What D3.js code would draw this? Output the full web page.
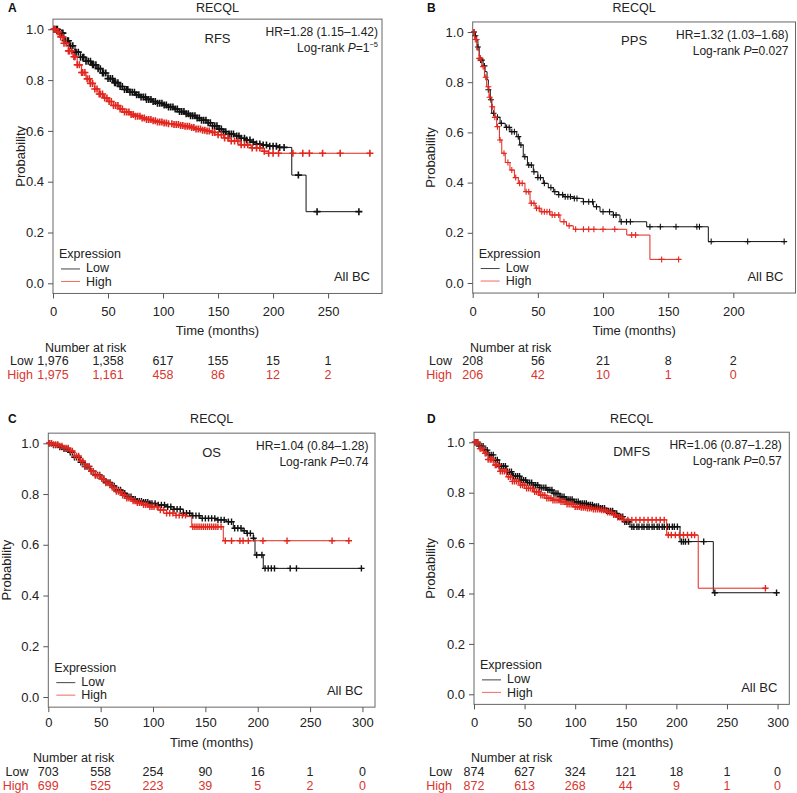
<!DOCTYPE html>
<html>
<head>
<meta charset="utf-8">
<script src="https://cdn.jsdelivr.net/npm/d3@7"></script>
<style>
  body { margin: 0; background: #fff; }
  text { font-family: "Liberation Sans", Arial, sans-serif; }
</style>
</head>
<body>
<div id="chart"></div>
<script>
// ---- data ----
const letters = ["A", "B", "C", "D"];
const endpoints = ["RFS", "PPS", "OS", "DMFS"];
const geneName = "RECQL";
const hrLabels = ["HR=1.28 (1.15\u20131.42)", "HR=1.32 (1.03\u20131.68)", "HR=1.04 (0.84\u20131.28)", "HR=1.06 (0.87\u20131.28)"];
const pValues = ["1", "0.027", "0.74", "0.57"];
const pExponents = ["\u22125", "", "", ""];

// survival steps [months, probability]; last entry = end of follow-up
const rfsLow = [[0,1],[5,0.985],[10,0.955],[15,0.935],[20,0.91],[25,0.89],[30,0.874],[35,0.86],[40,0.845],[45,0.828],[50,0.806],[55,0.79],[60,0.775],[65,0.763],[70,0.752],[75,0.742],[80,0.733],[85,0.724],[90,0.716],[95,0.709],[100,0.702],[105,0.694],[110,0.686],[115,0.676],[120,0.668],[125,0.66],[130,0.651],[135,0.642],[140,0.632],[145,0.62],[150,0.607],[155,0.597],[160,0.588],[165,0.58],[170,0.571],[175,0.564],[180,0.556],[185,0.548],[190,0.544],[196,0.54],[205,0.535],[217,0.426],[230,0.282],[280,0.282]];
const rfsHigh = [[0,1],[3,0.99],[6,0.97],[10,0.945],[14,0.915],[18,0.892],[22,0.86],[26,0.83],[30,0.805],[34,0.787],[38,0.765],[42,0.745],[46,0.73],[50,0.716],[55,0.7],[60,0.686],[65,0.674],[70,0.665],[75,0.658],[80,0.651],[85,0.645],[90,0.64],[95,0.635],[100,0.631],[105,0.628],[110,0.625],[115,0.621],[120,0.618],[125,0.613],[130,0.607],[135,0.603],[140,0.6],[145,0.594],[150,0.585],[155,0.572],[160,0.56],[170,0.545],[180,0.533],[190,0.52],[196,0.512],[289,0.512]];
const ppsLow = [[0,1],[2,0.985],[3,0.968],[4,0.94],[5,0.905],[6,0.888],[8,0.865],[9.5,0.842],[11,0.81],[12,0.77],[13.5,0.73],[14.6,0.676],[17,0.66],[21,0.636],[25,0.62],[28.6,0.603],[33.8,0.583],[36,0.55],[38.8,0.503],[42,0.47],[46.5,0.443],[50,0.42],[54.2,0.397],[58,0.38],[61.9,0.364],[66,0.352],[69.5,0.344],[77.2,0.337],[84.9,0.324],[92.6,0.304],[97.7,0.284],[107.9,0.271],[113,0.244],[133.5,0.224],[180.8,0.165],[239.7,0.165]];
const ppsHigh = [[0,1],[1.5,0.97],[3.1,0.928],[5,0.895],[6.9,0.862],[9,0.82],[10.7,0.782],[12.5,0.74],[14.6,0.702],[16.5,0.66],[18.4,0.623],[20.5,0.57],[22.3,0.517],[25,0.48],[28.6,0.45],[32,0.42],[35,0.397],[40.1,0.364],[44,0.318],[48,0.298],[51.6,0.284],[59.3,0.271],[67,0.244],[72,0.228],[77.2,0.214],[118.2,0.191],[136,0.094],[157.8,0.094]];
const osLow = [[0,1],[5,0.993],[10,0.985],[15,0.978],[20,0.965],[25,0.945],[30,0.925],[35,0.908],[40,0.89],[45,0.875],[50,0.86],[55,0.846],[60,0.832],[65,0.816],[70,0.803],[75,0.79],[80,0.78],[85,0.772],[90,0.768],[97,0.763],[105,0.757],[113,0.75],[120,0.74],[129,0.724],[137,0.715],[145,0.704],[160,0.698],[170,0.691],[176.7,0.665],[185,0.655],[189.5,0.645],[195.8,0.626],[197.4,0.56],[205.3,0.507],[301,0.507]];
const osHigh = [[0,1],[5,0.995],[10,0.99],[15,0.982],[20,0.97],[25,0.95],[30,0.93],[35,0.91],[40,0.89],[45,0.873],[50,0.86],[55,0.843],[60,0.826],[65,0.81],[70,0.795],[75,0.783],[80,0.772],[85,0.765],[90,0.758],[97,0.75],[105,0.737],[113,0.724],[122,0.716],[132.2,0.711],[137,0.671],[167.1,0.616],[288.2,0.616]];
const dmfsLow = [[0,1],[5,0.985],[9.2,0.969],[14,0.95],[19.1,0.93],[25,0.905],[32.3,0.883],[38,0.865],[45.5,0.85],[52,0.84],[58.6,0.83],[65,0.82],[71.8,0.811],[78,0.797],[85,0.784],[91,0.773],[98.1,0.764],[105,0.757],[111.4,0.751],[118,0.745],[124.5,0.738],[131,0.728],[137.6,0.718],[142,0.705],[147.5,0.685],[154.2,0.665],[203.6,0.606],[236.5,0.403],[299,0.403]];
const dmfsHigh = [[0,1],[5,0.975],[9.2,0.956],[14,0.932],[19.1,0.91],[25,0.885],[32.3,0.863],[38,0.845],[45.5,0.83],[52,0.817],[58.6,0.804],[65,0.79],[71.8,0.778],[78,0.77],[85,0.764],[91,0.754],[98.1,0.744],[105,0.741],[111.4,0.738],[118,0.734],[124.5,0.731],[131,0.722],[137.6,0.712],[142,0.702],[147.5,0.692],[190.4,0.632],[221.6,0.421],[289.2,0.421]];

// censoring times (months)
const rfsLowCens = [1,3,4,6,8,9,11,13,14,16,18,20,21,23,25,27,28,30,32,34,36,37,39,41,43,45,46,48,50,52,54,56,57,59,61,63,65,67,68,70,72,74,76,78,80,82,84,85,87,89,91,93,95,97,99,101,103,105,107,109,111,113,115,117,119,121,123,125,127,129,131,133,135,137,139,141,143,145,147,149,151,153,155,157,160,162,164,167,169,171,174,176,179,182,185,188,191,194,197,200,203,206,210,223,240,278];
const rfsHighCens = [1,2,4,5,7,9,10,12,14,15,17,19,20,22,24,26,27,29,31,33,34,36,38,40,42,43,45,47,49,51,53,55,57,59,61,63,65,67,69,71,73,75,77,79,81,83,85,87,89,91,93,95,97,99,101,103,105,108,110,112,114,116,118,120,122,124,126,128,130,132,134,136,138,140,142,145,147,150,153,156,159,162,165,168,171,174,177,181,185,188,192,196,200,205,218,227,233,245,261,288];
const ppsLowCens = [1,2,4,6,7,9,12,14,16,19,22,26,28,30,32,35,37,40,43,45,47,50,52,55,60,63,66,69,71,73,75,78,80,85,89,92,95,100,105,108,110,114,118,121,136,144,156,172,174,183,211,239];
const ppsHighCens = [1,2,3,5,6,8,10,12,13,15,17,19,21,24,27,30,33,36,38,41,43,45,47,49,51,53,55,57,59,61,63,66,70,74,79,85,89,93,100,109,122,125,145,158];
const osLowCens = [1,3,5,7,9,11,13,15,17,19,21,23,25,27,29,31,33,35,37,39,41,43,45,47,49,51,53,55,57,59,61,63,65,67,69,71,73,75,77,79,81,83,85,87,89,91,93,95,97,99,102,105,108,111,114,117,120,123,126,129,132,135,138,141,144,147,150,153,156,159,162,165,168,172,175,178,181,184,187,190,193,196,199,204,207,210,213,216,231,237,299];
const osHighCens = [1,3,5,7,9,11,13,15,17,19,21,23,25,27,29,31,33,35,37,39,41,43,45,47,49,51,53,55,57,59,61,63,65,67,69,71,73,75,77,79,81,83,85,87,89,91,93,95,97,99,101,104,107,110,113,116,119,122,125,128,131,138,140,142,144,146,148,150,152,154,156,158,160,162,165,169,175,183,186,191,205,228,271,287];
const dmfsLowCens = [1,3,5,7,9,11,13,15,17,19,21,23,25,27,29,31,33,35,37,39,41,43,45,47,49,51,53,55,57,59,61,63,65,67,69,71,73,75,77,79,81,83,85,87,89,91,93,95,97,99,101,103,105,107,109,111,113,115,117,119,121,123,125,127,129,131,133,135,137,139,141,143,145,147,149,151,153,156,158,161,163,166,168,171,173,176,178,181,183,186,188,191,193,196,198,201,205,207,209,212,227,238,299];
const dmfsHighCens = [1,2,4,6,7,9,11,12,14,16,17,19,21,22,24,26,28,30,32,34,36,38,40,42,44,46,48,50,52,54,56,58,60,62,64,66,68,70,72,74,76,78,80,82,84,86,88,90,92,94,96,98,100,102,104,106,108,110,112,114,116,118,120,122,124,126,128,130,132,134,136,138,140,142,144,146,148,152,156,160,164,168,172,176,180,184,188,192,195,199,203,207,211,215,218,288];

// x ticks / number at risk
const ticks250 = [0, 50, 100, 150, 200, 250];
const ticks200 = [0, 50, 100, 150, 200];
const ticks300 = [0, 50, 100, 150, 200, 250, 300];
const rfsRiskLow = [1976, 1358, 617, 155, 15, 1];
const rfsRiskHigh = [1975, 1161, 458, 86, 12, 2];
const ppsRiskLow = [208, 56, 21, 8, 2];
const ppsRiskHigh = [206, 42, 10, 1, 0];
const osRiskLow = [703, 558, 254, 90, 16, 1, 0];
const osRiskHigh = [699, 525, 223, 39, 5, 2, 0];
const dmfsRiskLow = [874, 627, 324, 121, 18, 1, 0];
const dmfsRiskHigh = [872, 613, 268, 44, 9, 1, 0];
const yTicks = [0, 0.2, 0.4, 0.6, 0.8, 1.0];

// ---- layout ----
const rowsTop = {title: 11.5, tick: 315.7, time: 335, nar: 351.5, low: 365.2, high: 379};
const rowsBottom = {title: 422.5, tick: 726.7, time: 746.7, nar: 762.3, low: 776, high: 789.5};

const panels = [
  {low: rfsLow, high: rfsHigh, lowC: rfsLowCens, highC: rfsHighCens, ticks: ticks250, rLow: rfsRiskLow, rHigh: rfsRiskHigh,
   left: 53, right: 382, xMax: 299, y0: 283.3, y1: 29.3, letterX: 8, probX: 25, narX: 45, rowRight: 33, rows: rowsTop,
   mark: 3.5, markW: 1.6, hrPad: 4},
  {low: ppsLow, high: ppsHigh, lowC: ppsLowCens, highC: ppsHighCens, ticks: ticks200, rLow: ppsRiskLow, rHigh: ppsRiskHigh,
   left: 472.7, right: 795.5, xMax: 247.7, y0: 283, y1: 32, letterX: 427, probX: 435, narX: 470, rowRight: 452, rows: rowsTop,
   mark: 3, markW: 1.1, hrPad: 7},
  {low: osLow, high: osHigh, lowC: osLowCens, highC: osHighCens, ticks: ticks300, rLow: osRiskLow, rHigh: osRiskHigh,
   left: 48.3, right: 375, xMax: 312, y0: 697, y1: 443.3, letterX: 8, probX: 10.5, narX: 33, rowRight: 28.5, rows: rowsBottom,
   mark: 3.2, markW: 1.4, hrPad: 6.5},
  {low: dmfsLow, high: dmfsHigh, lowC: dmfsLowCens, highC: dmfsHighCens, ticks: ticks300, rLow: dmfsRiskLow, rHigh: dmfsRiskHigh,
   left: 474, right: 789.3, xMax: 311.6, y0: 694.3, y1: 442.3, letterX: 427, probX: 435, narX: 471, rowRight: 452, rows: rowsBottom,
   mark: 3.2, markW: 1.4, hrPad: 7.5}
];

const lowColor = "#111", highColor = "#e3261e";
const riskRed = "#d8362f";
const fmt = d3.format(",");

const svg = d3.select("#chart")
  .append("svg")
    .attr("width", 797)
    .attr("height", 793);

function survAt(curve, t) {
  const i = d3.bisector(d => d[0]).right(curve, t) - 1;
  return curve[Math.max(0, i)][1];
}

panels.forEach(function(p, k) {
  const x = d3.scaleLinear().domain([0, p.xMax]).range([p.left, p.right]);
  const y = d3.scaleLinear().domain([0, 1]).range([p.y0, p.y1]);
  const top = y(1.04), bottom = y(-0.04);
  const cx = (p.left + p.right) / 2;
  const g = svg.append("g");

  // frame
  g.append("rect")
    .attr("x", p.left).attr("y", top)
    .attr("width", p.right - p.left).attr("height", bottom - top)
    .attr("fill", "none").attr("stroke", "#666").attr("stroke-width", 1);

  // y axis
  const ya = g.append("g")
    .attr("transform", `translate(${p.left},0)`)
    .call(d3.axisLeft(y).tickValues(yTicks).tickFormat(d3.format(".1f")).tickSize(5).tickPadding(4));
  ya.select(".domain").remove();

  // x axis
  const xa = g.append("g")
    .attr("transform", `translate(0,${bottom})`)
    .call(d3.axisBottom(x).tickValues(p.ticks).tickSize(5));
  xa.select(".domain").remove();
  xa.selectAll("text").attr("y", p.rows.tick - bottom).attr("dy", null);

  [ya, xa].forEach(a => {
    a.attr("font-size", 13).attr("font-family", "Liberation Sans, Arial, sans-serif");
    a.selectAll("line").attr("stroke", "#555");
    a.selectAll("text").attr("fill", "#222");
  });

  // curves with censor crosses
  const line = d3.line()
    .x(d => x(d[0]))
    .y(d => y(d[1]))
    .curve(d3.curveStepAfter);

  [[p.low, p.lowC, lowColor], [p.high, p.highC, highColor]].forEach(function(s) {
    g.append("path")
      .datum(s[0])
      .attr("d", line)
      .attr("fill", "none")
      .attr("stroke", s[2])
      .attr("stroke-width", 1);
    g.append("g")
      .selectAll("path")
      .data(s[1])
      .enter()
      .append("path")
        .attr("d", function(t) {
          const px = x(t), py = y(survAt(s[0], t)), m = p.mark;
          return `M${px - m},${py}H${px + m}M${px},${py - m}V${py + m}`;
        })
        .attr("stroke", s[2])
        .attr("stroke-width", p.markW);
  });

  // labels
  g.append("text").attr("x", p.letterX).attr("y", p.rows.title)
    .attr("font-size", 12).attr("font-weight", "bold").attr("fill", "#111").text(letters[k]);
  g.append("text").attr("x", cx).attr("y", p.rows.title)
    .attr("text-anchor", "middle").attr("font-size", 12.5).attr("fill", "#222").text(geneName);
  g.append("text").attr("x", cx).attr("y", top + 23.5).attr("text-anchor", "middle")
    .attr("font-size", 13).attr("fill", "#222").text(endpoints[k]);
  g.append("text").attr("x", p.right - p.hrPad).attr("y", top + 17).attr("text-anchor", "end")
    .attr("font-size", 12).attr("fill", "#222").text(hrLabels[k]);
  const lr = g.append("text").attr("x", p.right - p.hrPad).attr("y", top + 33).attr("text-anchor", "end")
    .attr("font-size", 12).attr("fill", "#222");
  lr.append("tspan").text("Log-rank ");
  lr.append("tspan").attr("font-style", "italic").text("P");
  lr.append("tspan").text("=" + pValues[k]);
  if (pExponents[k]) {
    lr.append("tspan").attr("font-size", 7.5).attr("dy", -5).text(pExponents[k]);
  }

  g.append("text")
    .attr("transform", `translate(${p.probX},${(top + bottom) / 2}) rotate(-90)`)
    .attr("text-anchor", "middle").attr("font-size", 13).attr("fill", "#222")
    .text("Probability");

  // legend
  g.append("text").attr("x", p.left + 6).attr("y", bottom - 35.5)
    .attr("font-size", 12.5).attr("fill", "#222").text("Expression");
  [["Low", "#444", 24.5, 21.5], ["High", "#f06a62", 12, 7.8]].forEach(function(l) {
    g.append("line")
      .attr("x1", p.left + 8).attr("x2", p.left + 27)
      .attr("y1", bottom - l[2]).attr("y2", bottom - l[2])
      .attr("stroke", l[1]).attr("stroke-width", 1);
    g.append("text").attr("x", p.left + 33).attr("y", bottom - l[3])
      .attr("font-size", 12.5).attr("fill", "#222").text(l[0]);
  });
  g.append("text").attr("x", p.right - 12).attr("y", bottom - 12).attr("text-anchor", "end")
    .attr("font-size", 13).attr("fill", "#222").text("All BC");

  // x title and number at risk
  g.append("text").attr("x", cx).attr("y", p.rows.time).attr("text-anchor", "middle")
    .attr("font-size", 13).attr("fill", "#222").text("Time (months)");
  g.append("text").attr("x", p.narX).attr("y", p.rows.nar)
    .attr("font-size", 12.5).attr("fill", "#222").text("Number at risk");
  g.append("text").attr("x", p.rowRight).attr("y", p.rows.low).attr("text-anchor", "end")
    .attr("font-size", 12.5).attr("fill", "#222").text("Low");
  g.append("text").attr("x", p.rowRight).attr("y", p.rows.high).attr("text-anchor", "end")
    .attr("font-size", 12.5).attr("fill", riskRed).text("High");
  g.append("g").selectAll("text").data(p.rLow).enter().append("text")
    .attr("x", (d, i) => x(p.ticks[i])).attr("y", p.rows.low).attr("text-anchor", "middle")
    .attr("font-size", 12.5).attr("fill", "#222").text(d => fmt(d));
  g.append("g").selectAll("text").data(p.rHigh).enter().append("text")
    .attr("x", (d, i) => x(p.ticks[i])).attr("y", p.rows.high).attr("text-anchor", "middle")
    .attr("font-size", 12.5).attr("fill", riskRed).text(d => fmt(d));
});
</script>
</body>
</html>
